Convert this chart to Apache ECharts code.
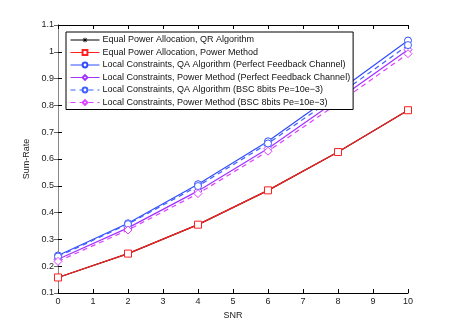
<!DOCTYPE html>
<html>
<head>
<meta charset="utf-8">
<script src="https://cdn.jsdelivr.net/npm/echarts@6/dist/echarts.min.js"></script>
<style>
html, body { margin: 0; padding: 0; background: #fff; }
#main { width: 450px; height: 329px; }
</style>
</head>
<body>
<div id="main"></div>
<script>
// data
var snr = [0, 2, 4, 6, 8, 10];
var eqQR = [0.158, 0.247, 0.355, 0.483, 0.626, 0.782];
var eqPower = [0.158, 0.247, 0.355, 0.483, 0.626, 0.782];
var lcQAPerfect = [0.240, 0.360, 0.506, 0.666, 0.852, 1.042];
var lcPowerPerfect = [0.226, 0.343, 0.481, 0.639, 0.822, 1.008];
var lcQABsc = [0.236, 0.357, 0.499, 0.658, 0.838, 1.025];
var lcPowerBsc = [0.218, 0.335, 0.471, 0.629, 0.808, 0.993];

var names = [
  'Equal Power Allocation, QR Algorithm',
  'Equal Power Allocation, Power Method',
  'Local Constraints, QA Algorithm (Perfect Feedback Channel)',
  'Local Constraints, Power Method (Perfect Feedback Channel)',
  'Local Constraints, QA Algorithm (BSC 8bits Pe=10e\u22123)',
  'Local Constraints, Power Method (BSC 8bits Pe=10e\u22123)'
];

function pts(ys) {
  var out = [];
  for (var i = 0; i < snr.length; i++) out.push([snr[i], ys[i]]);
  return out;
}

// asterisk made of thin filled bars
var star = 'path://M0,4.4L10,4.4L10,5.6L0,5.6ZM4.4,0L5.6,0L5.6,10L4.4,10Z' +
  'M1,2L2,1L9,8L8,9ZM8,1L9,2L2,9L1,8Z';
var font = 'Liberation Sans';

function line(name, ys, color, symbol, size, dashed) {
  return {
    name: name,
    type: 'line',
    data: pts(ys),
    symbol: symbol,
    symbolSize: size,
    showAllSymbol: true,
    animation: false,
    lineStyle: { color: color, width: 1.2, type: dashed ? [5, 4] : 'solid' },
    itemStyle: symbol == star ? { color: color, borderWidth: 0 } :
      { color: '#fff', borderColor: color, borderWidth: 1 },
    emphasis: { disabled: true }
  };
}

var chart = echarts.init(document.getElementById('main'));
var option = {
  backgroundColor: '#fff',
  animation: false,
  grid: { left: 58, right: 42, top: 25, bottom: 36 },
  legend: {
    orient: 'vertical',
    left: 66,
    top: 32,
    padding: [3, 3, 2, 4],
    itemGap: 2.5,
    itemWidth: 29,
    itemHeight: 6,
    backgroundColor: '#fff',
    borderColor: '#000',
    borderWidth: 1,
    borderRadius: 0,
    selectedMode: false,
    lineStyle: { width: 1 },
    textStyle: { fontFamily: font, fontSize: 9, color: '#111', padding: [0, 0, 0, -2], lineHeight: 10 },
    data: names
  },
  xAxis: [{
    type: 'value', min: 0, max: 10, interval: 1,
    name: 'SNR', nameLocation: 'middle', nameGap: 13,
    nameTextStyle: { fontFamily: font, fontSize: 9, color: '#222' },
    axisLine: { lineStyle: { color: '#000', width: 1 } },
    axisTick: { inside: true, length: 4, lineStyle: { color: '#000' } },
    axisLabel: { fontFamily: font, fontSize: 9, color: '#222', margin: 4 },
    splitLine: { show: false }
  }, {
    type: 'value', min: 0, max: 10, interval: 1, position: 'top',
    axisLine: { lineStyle: { color: '#000', width: 1 } },
    axisTick: { inside: true, length: 4, lineStyle: { color: '#000' } },
    axisLabel: { show: false },
    splitLine: { show: false }
  }],
  yAxis: [{
    type: 'value', min: 0.1, max: 1.1, interval: 0.1,
    name: 'Sum-Rate', nameLocation: 'middle', nameGap: 18,
    nameTextStyle: { fontFamily: font, fontSize: 9, color: '#222' },
    axisLine: { lineStyle: { color: '#000', width: 1 } },
    axisTick: { inside: true, length: 4, lineStyle: { color: '#000' } },
    axisLabel: {
      fontFamily: font, fontSize: 9, color: '#222', margin: 4,
      formatter: function (v) { return String(parseFloat(v.toFixed(1))); }
    },
    splitLine: { show: false }
  }, {
    type: 'value', min: 0.1, max: 1.1, interval: 0.1, position: 'right',
    axisLine: { show: true, lineStyle: { color: '#888', width: 1 } },
    axisTick: { show: true, inside: true, length: 4, lineStyle: { color: '#666' } },
    axisLabel: { show: false },
    splitLine: { show: false }
  }],
  series: [
    line(names[0], eqQR, '#000', star, 6, false),
    line(names[1], eqPower, '#ff2020', 'rect', 7, false),
    line(names[2], lcQAPerfect, '#2f4dff', 'circle', 7, false),
    line(names[3], lcPowerPerfect, '#a032ff', 'diamond', 8, false),
    line(names[4], lcQABsc, '#3f5fff', 'circle', 7, true),
    line(names[5], lcPowerBsc, '#e040ff', 'diamond', 8, true)
  ]
};
chart.setOption(option);
window.onresize = chart.resize;
</script>
</body>
</html>
